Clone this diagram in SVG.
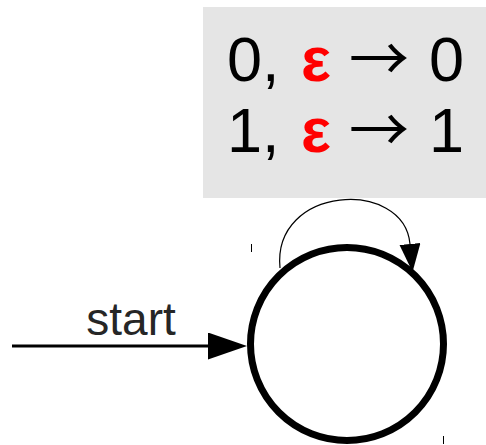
<svg xmlns="http://www.w3.org/2000/svg" width="486" height="445" viewBox="0 0 486 445">
  <style>
    .lbl { font-family: "Liberation Sans", Arial, sans-serif; font-size: 63px; fill: #000; }
    .eps { fill: #ff0000; font-weight: bold; }
    .arr { font-family: "Noto Sans CJK SC", "DejaVu Sans", sans-serif; font-size: 60px; }
    .start { font-family: "Liberation Sans", Arial, sans-serif; font-size: 46px; fill: #262626; }
    .tick { stroke: #000; stroke-width: 1; }
  </style>
  <defs>
    <marker id="head-loop" markerUnits="userSpaceOnUse" markerWidth="30" markerHeight="22" refX="0" refY="10.5" orient="auto">
      <path d="M0,0 L28,10.5 L0,21 z" fill="#000"/>
    </marker>
    <marker id="head-start" markerUnits="userSpaceOnUse" markerWidth="40" markerHeight="28" refX="0" refY="13.5" orient="auto">
      <path d="M0,0 L39,13.5 L0,27 z" fill="#000"/>
    </marker>
  </defs>

  <!-- transition label box -->
  <g id="label">
    <rect x="203" y="7" width="283" height="191" fill="#e5e5e5"/>
    <text class="lbl" y="81"><tspan x="227">0,</tspan><tspan x="301" class="eps">ε</tspan><tspan x="349" class="arr">→</tspan><tspan x="429">0</tspan></text>
    <text class="lbl" y="152"><tspan x="227">1,</tspan><tspan x="301" class="eps">ε</tspan><tspan x="349" class="arr">→</tspan><tspan x="429">1</tspan></text>
  </g>

  <!-- state -->
  <g id="state">
    <circle cx="347" cy="344" r="96.5" fill="#fff" stroke="#000" stroke-width="7"/>
    <line class="tick" x1="251.5" y1="244" x2="251.5" y2="252"/>
    <line class="tick" x1="443.5" y1="436" x2="443.5" y2="444"/>
  </g>

  <!-- connectors -->
  <g id="connectors" fill="none" stroke="#000">
    <path d="M280,268 C272,185 404,178 410,244" stroke-width="1.2" marker-end="url(#head-loop)"/>
    <line x1="12" y1="346" x2="208" y2="346" stroke-width="3" marker-end="url(#head-start)"/>
  </g>

  <g id="start-label">
    <text class="start" x="131" y="335" text-anchor="middle">start</text>
  </g>
</svg>
